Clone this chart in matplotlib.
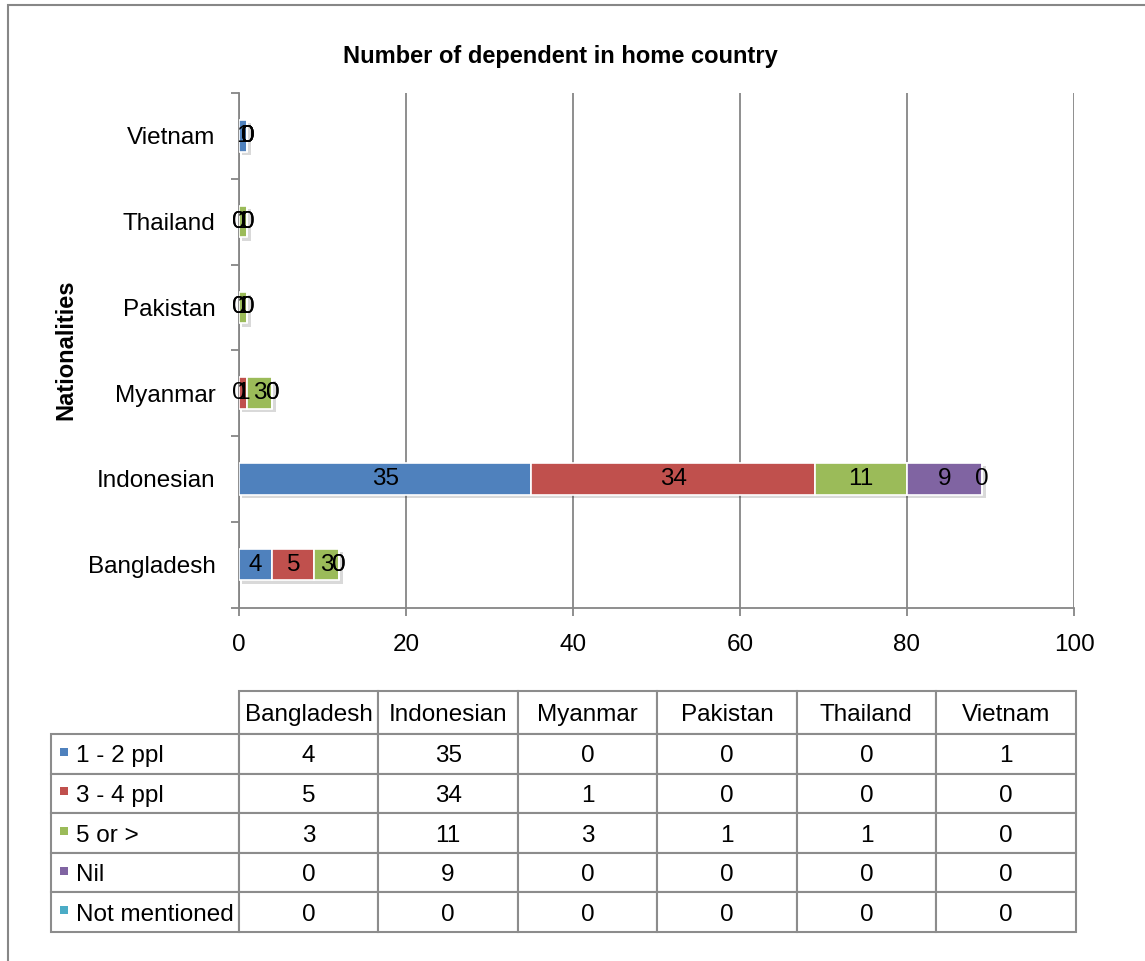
import matplotlib
matplotlib.use("Agg")
import matplotlib.pyplot as plt
import matplotlib.patheffects as pe
from matplotlib.patches import Rectangle
import numpy as np

plt.rcParams['font.family'] = ['Liberation Sans', 'DejaVu Sans']

# ---- data ----
categories = ["Bangladesh", "Indonesian", "Myanmar", "Pakistan", "Thailand", "Vietnam"]
series_names = ["1 - 2 ppl", "3 - 4 ppl", "5 or >", "Nil", "Not mentioned"]
s_1_2 = [4, 35, 0, 0, 0, 1]
s_3_4 = [5, 34, 1, 0, 0, 0]
s_5_more = [3, 11, 3, 1, 1, 0]
s_nil = [0, 9, 0, 0, 0, 0]
s_not_mentioned = [0, 0, 0, 0, 0, 0]
series_values = [s_1_2, s_3_4, s_5_more, s_nil, s_not_mentioned]
colors = ["#4F81BD", "#C0504D", "#9BBB59", "#8064A2", "#4BACC6"]
x_ticks = [0, 20, 40, 60, 80, 100]
title = "Number of dependent in home country"
y_label = "Nationalities"

W, H = 1145, 961
fig = plt.figure(figsize=(W / 100, H / 100), dpi=100)

def fx(px):
    return px / W

def fy(py):
    return 1 - py / H

# outer chart border
fig.patches.append(Rectangle((fx(8), fy(1000)), fx(1300), fy(5) - fy(1000),
                             transform=fig.transFigure, fill=False,
                             edgecolor="#878787", linewidth=1.5, zorder=0))

ax_l, ax_r, ax_t, ax_b = 239, 1074, 93, 607.5
ax = fig.add_axes([fx(ax_l), fy(ax_b), fx(ax_r - ax_l), fy(ax_t) - fy(ax_b)])

FS = 17.5
gray = "#868686"
ypos = np.arange(len(categories))
left = np.zeros(len(categories))
shadow = [pe.SimplePatchShadow(offset=(2.5, -2.5), shadow_rgbFace="#000000", alpha=0.15),
          pe.Normal()]
for name, vals, col in zip(series_names, series_values, colors):
    vals = np.array(vals, dtype=float)
    bars = ax.barh(ypos, vals, left=left, height=0.37, color=col,
                   edgecolor="white", linewidth=1.2, zorder=3, label=name)
    for b in bars:
        b.set_path_effects(shadow)
    for y, v, l in zip(ypos, vals, left):
        ax.text(l + v / 2, y, f"{int(v)}", ha="center", va="center",
                fontsize=FS, color="black", zorder=5)
    left = left + vals

ax.set_xlim(0, 100)
ax.set_ylim(-0.5, len(categories) - 0.5)
ax.set_xticks(x_ticks)
ax.set_xticklabels([str(t) for t in x_ticks], fontsize=FS)
ax.set_yticks(ypos)
ax.set_yticklabels(categories, fontsize=FS)
ax.set_yticks(np.arange(-0.5, len(categories), 1.0), minor=True)
ax.tick_params(axis="y", which="major", length=0, pad=17)
ax.tick_params(axis="y", which="minor", length=6, width=1.3, color=gray, direction="out")
ax.tick_params(axis="x", which="major", length=6, width=1.3, color=gray, direction="out", pad=13)
ax.grid(axis="x", color=gray, linewidth=1.3, zorder=0)
ax.set_axisbelow(True)
for s in ["top", "right"]:
    ax.spines[s].set_visible(False)
for s in ["left", "bottom"]:
    ax.spines[s].set_color(gray)
    ax.spines[s].set_linewidth(1.3)

fig.text(fx(560.5), fy(57), title, ha="center", va="center",
         fontsize=17, fontweight="bold")
fig.text(fx(66), fy(ax_t + (ax_b - ax_t) / 2), y_label, ha="center", va="center",
         rotation=90, fontsize=17, fontweight="bold")

# ---- data table ----
tb_l, tb_r, tb_t, tb_b = 50.5, 1075.5, 691, 932
tw, th = tb_r - tb_l, tb_b - tb_t
tax = fig.add_axes([fx(tb_l), fy(tb_b), fx(tw), fy(tb_t) - fy(tb_b)])
tax.axis("off")
cell_text = [[str(v) for v in vals] for vals in series_values]
rowlab_px = 188.5
header_px = 43
rowlab_w = rowlab_px / tw
col_w = (1 - rowlab_w) / len(categories)
header_h = header_px / th
row_h = (1 - header_h) / len(series_names)
tbl = tax.table(cellText=cell_text, rowLabels=series_names, colLabels=categories,
                cellLoc="center", rowLoc="left", colLoc="center",
                colWidths=[col_w] * len(categories),
                bbox=[rowlab_w, 0, 1 - rowlab_w, 1])
tbl._autoColumns = []
tbl.auto_set_font_size(False)
tbl.set_fontsize(FS)
tbl.set_clip_on(False)
for (r, c), cell in tbl.get_celld().items():
    cell.set_edgecolor("#8c8c8c")
    cell.set_linewidth(1.5)
    cell.set_clip_on(False)
    cell.set_height(header_h if r == 0 else row_h)
    if c == -1:
        cell.set_width(rowlab_w)
        cell.PAD = 26 / rowlab_px
    else:
        cell.set_width(col_w)
    cell.get_text().set_fontsize(FS)
    cell.get_text().set_va("center_baseline")

# legend keys inside row label cells
row_px = (th - header_px) / len(series_names)
for i, col in enumerate(colors):
    cy = tb_t + header_px + row_px * (i + 0.5) - 2
    fig.patches.append(Rectangle((fx(tb_l + 9.5), fy(cy + 4)), fx(7.5), fy(cy - 4) - fy(cy + 4),
                                 transform=fig.transFigure, facecolor=col,
                                 edgecolor="none", zorder=10))

fig.savefig("out.png", dpi=100)
